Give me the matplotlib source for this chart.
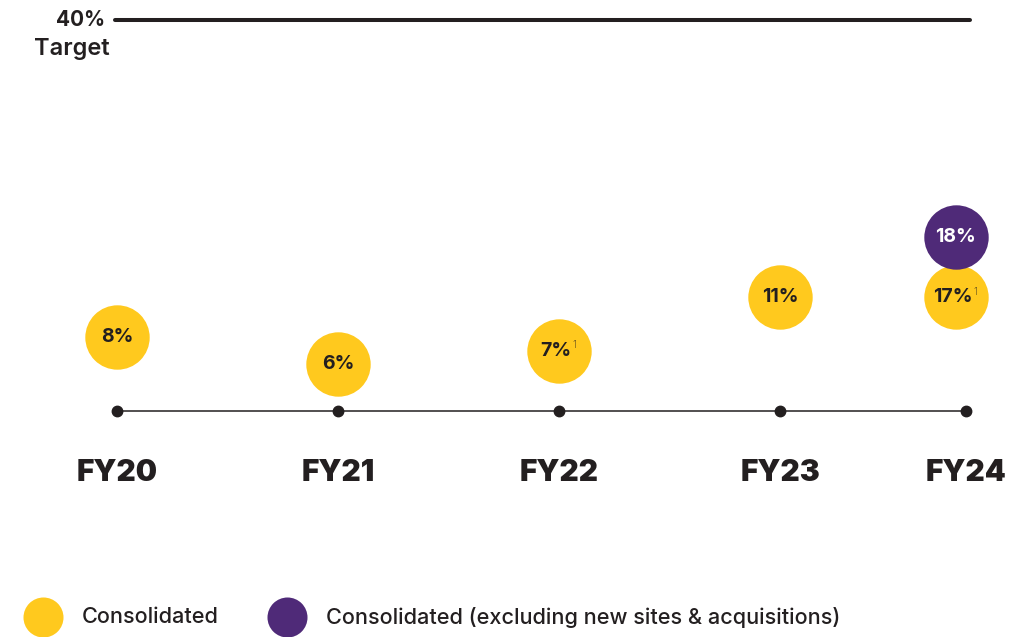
import matplotlib.pyplot as plt

plt.rcParams['font.family'] = ['Inter', 'DejaVu Sans']

# data
years = ['FY20', 'FY21', 'FY22', 'FY23', 'FY24']
consolidated = [8, 6, 7, 11, 17]
excl_new = 18          # FY24 only
footnote = [False, False, True, False, True]
target = 40
series_names = ['Consolidated', 'Consolidated (excluding new sites & acquisitions)']

# layout (timeline slot for each year, bubble heights on the chart scale)
x_pos = [0, 1, 2, 3, 3.84]
bubble_y = [8, 6, 7, 11, 11]
excl_y = 15.5
timeline_y = 2.5
target_y = 31.7

YELLOW = '#FFC91E'
PURPLE = '#4F2A78'
DARK = '#231F20'

fig = plt.figure(figsize=(10.30, 6.37), dpi=100)
ax = fig.add_axes([0, 0, 1, 1])
ax.set_xlim(-0.529, 4.131)
ax.set_ylim(-14.37, 33.16)
ax.axis('off')

# target line
ax.plot([-0.0090, 3.859], [target_y, target_y], color=DARK, lw=2.9,
        solid_capstyle='round')
ax.text(-0.054, target_y - 0.05, f'{target}%', ha='right', va='center',
        fontsize=15, fontweight='bold', color=DARK)
ax.text(-0.031, target_y - 2.2, 'Target', ha='right', va='center',
        fontsize=17, fontweight='semibold', color=DARK)

# timeline
ax.plot([x_pos[0], x_pos[-1]], [timeline_y, timeline_y], color=DARK, lw=1.1)
ax.plot(x_pos, [timeline_y] * len(x_pos), 'o', color=DARK, ms=7.5)

for x, lab in zip(x_pos, years):
    ax.text(x, -2.1, lab, ha='center', va='center', fontsize=21.5,
            fontweight='black', color=DARK)

# bubbles
xs = list(x_pos)
xs[-1] = x_pos[-1] - 0.045
ax.scatter(xs, bubble_y, s=2150, color=YELLOW, zorder=3, linewidths=0)
ax.scatter([xs[-1]], [excl_y], s=2150, color=PURPLE, zorder=3, linewidths=0)


def bubble_label(x, y, val, col, note):
    t = ax.text(x, y, f'{val}%', ha='center', va='center', fontsize=14,
                fontweight='bold', color=col, zorder=4)
    if note:
        t.set_x(x - 0.015)
        ax.annotate('1', xy=(1, 0.8), xycoords=t, xytext=(0.5, 0),
                    textcoords='offset points', ha='left', va='center',
                    fontsize=7, fontweight='light', color=DARK, zorder=4)


for x, y, v, n in zip(xs, bubble_y, consolidated, footnote):
    bubble_label(x, y, v, DARK, n)
bubble_label(xs[-1], excl_y, excl_new, 'white', False)

# legend
leg_y = -12.88
leg_marker_x = [-0.334, 0.770]
leg_text_x = [-0.158, 0.946]
for mx, tx, col, name in zip(leg_marker_x, leg_text_x, [YELLOW, PURPLE], series_names):
    ax.scatter([mx], [leg_y], s=830, color=col, linewidths=0)
    ax.text(tx, leg_y, name, ha='left', va='center', fontsize=15.6,
            fontweight='medium', color=DARK)

fig.savefig('out.png', dpi=100)
